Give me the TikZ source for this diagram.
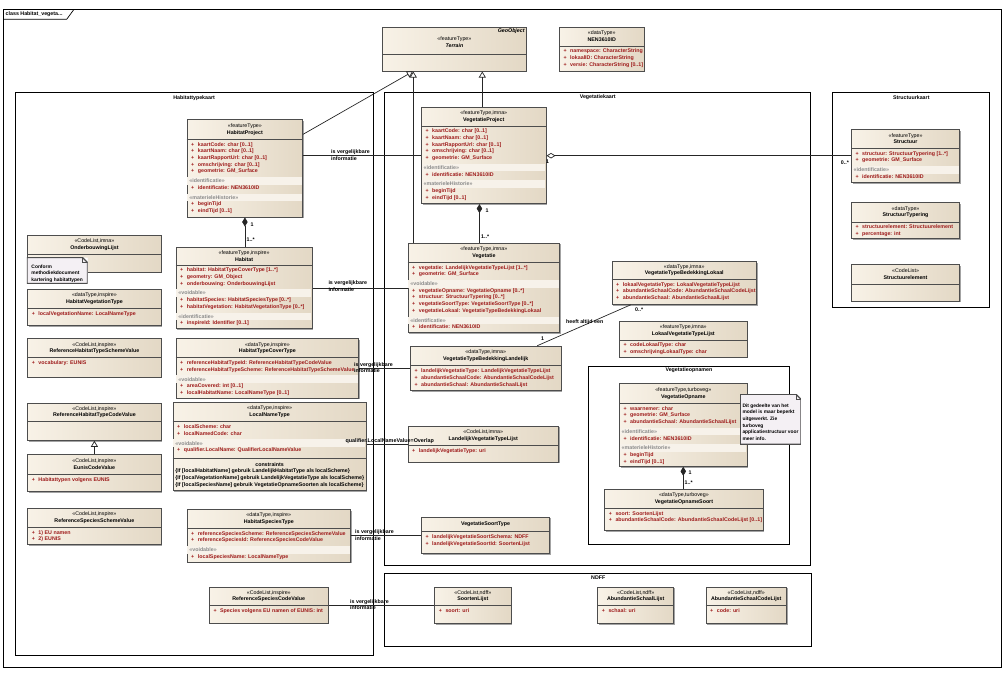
\documentclass[tikz,border=0pt]{standalone}
\usepackage{fontspec}
\setmainfont{Liberation Sans}
\usepackage{xcolor}
\usetikzlibrary{arrows.meta,positioning,calc,shadows}

\definecolor{boxl}{HTML}{F8F2E7}
\definecolor{boxr}{HTML}{E3D8C5}
\definecolor{boxline}{HTML}{4D4D4D}
\definecolor{attred}{HTML}{9E1B1B}
\definecolor{sectgray}{HTML}{8A8A8A}
\definecolor{bandc}{HTML}{F7F2EA}
\definecolor{notebg}{HTML}{F4F0F4}

\newcommand{\umlfont}{\fontsize{5.3}{6.7}\selectfont\bfseries\lineskip=0pt\relax}
\newcommand{\notefont}{\fontsize{4.9}{6.7}\selectfont\bfseries\lineskip=0pt\relax}
\newlength{\bandw}
% one attribute line, one compartment label
\newcommand{\attr}[1]{\strut\hspace{1.8pt}\textcolor{attred}{\makebox[6.7pt][l]{+}#1}}
\newcommand{\sect}[1]{\rule[-2.01pt]{0pt}{9.7pt}\rlap{\hspace{-2pt}\textcolor{bandc}{\rule[-2.01pt]{\bandw}{7.6pt}}}\textcolor{sectgray}{«#1»}}
\newcommand{\stereo}[1]{{\mdseries«#1»}}
% class box: name, x, y, width, height, header height, header, body
\newcommand{\umlbox}[8]{%
  \node[clsbox, minimum width=#4pt, minimum height=#5pt] (#1) at (#2,#3) {};
  \draw[boxsep] ([yshift=-#6pt]#1.north west) -- ([yshift=-#6pt]#1.north east);
  \node[hdrtext] (#1-hdr) at ([yshift=-#6pt/2]#1.north) {#7};
  \setlength{\bandw}{\dimexpr#4pt-1pt\relax}%
  \node[bodytext] (#1-body) at ([xshift=2.5pt,yshift=-#6pt-2pt]#1.north west) {#8};
}

\begin{document}
\begin{tikzpicture}[x=1pt, y=-1pt,
  clsbox/.style={draw=boxline, line width=0.8pt, left color=boxl, right color=boxr,
                 anchor=north west, inner sep=0pt,
                 drop shadow={shadow xshift=1.3pt, shadow yshift=-1.3pt, fill=black!60, opacity=0.6}},
  boxsep/.style={draw=boxline, line width=0.7pt},
  hdrtext/.style={align=center, inner sep=0pt, font=\umlfont},
  bodytext/.style={anchor=north west, align=left, inner sep=0pt, font=\umlfont},
  pkg/.style={draw=black, line width=0.9pt, anchor=north west, inner sep=0pt},
  pkgtitle/.style={anchor=north, inner sep=0pt, font=\umlfont},
  note/.style={anchor=north west, align=left, inner xsep=1.4pt, inner ysep=1pt,
               font=\notefont, fill=notebg,
               path picture={
                 \fill[white] ([xshift=-5pt]path picture bounding box.north east)
                   -- (path picture bounding box.north east)
                   -- ([yshift=-5pt]path picture bounding box.north east) -- cycle;
                 \draw[boxline, line width=1.3pt] (path picture bounding box.south west)
                   -- (path picture bounding box.north west)
                   -- ([xshift=-5pt]path picture bounding box.north east)
                   -- ([yshift=-5pt]path picture bounding box.north east)
                   -- (path picture bounding box.south east) -- cycle;
                 \draw[boxline, line width=0.6pt] ([xshift=-5pt]path picture bounding box.north east)
                   |- ([yshift=-5pt]path picture bounding box.north east);}},
  conn/.style={draw=black!85, line width=0.7pt},
  gen/.style={conn, -{Triangle[open, length=6pt, width=7pt]}},
  comp/.style={conn, {Diamond[length=9pt, width=5.5pt]}-},
  agg/.style={conn, {Diamond[open, length=9pt, width=5.5pt]}-},
  lbl/.style={anchor=west, align=left, inner sep=0pt, font=\umlfont},
  mult/.style={anchor=west, inner sep=0pt, font=\umlfont}
]
\useasboundingbox (0,0) rectangle (1003,673);

% frame and packages
\node[pkg, minimum width=997.4pt, minimum height=657.4pt] (frame) at (3.3,9.3) {};
\draw[conn, draw=black] ([yshift=-10pt]frame.north west) -- ++(63.4,0) -- ([xshift=70.7pt]frame.north west);
\node[mult] (tab) at (5.5,14.5) {class Habitat\_vegeta...};

\node[pkg, minimum width=358pt, minimum height=562.7pt] (habkaart) at (14.7,92.3) {};
\node[pkgtitle] (habkaart-t) at ([yshift=-3.5pt]habkaart.north) {Habitattypekaart};
\node[pkg, minimum width=426pt, minimum height=472.7pt] (vegkaart) at (384.3,92.3) {};
\node[pkgtitle] (vegkaart-t) at ([yshift=-2pt]vegkaart.north) {Vegetatiekaart};
\node[pkg, minimum width=157pt, minimum height=215pt] (strkaart) at (832.3,92.3) {};
\node[pkgtitle] (strkaart-t) at ([yshift=-3.5pt]strkaart.north) {Structuurkaart};
\node[pkg, minimum width=200.4pt, minimum height=178.3pt] (vegopn) at (588.3,365.7) {};
\node[pkgtitle] (vegopn-t) at ([yshift=-2pt]vegopn.north) {Vegetatieopnamen};
\node[pkg, minimum width=427pt, minimum height=72.4pt] (ndff) at (384.3,573.3) {};
\node[pkgtitle] (ndff-t) at ([yshift=-2pt]ndff.north) {NDFF};

% top
\umlbox{terrain}{382.3}{26.7}{143.4}{44}{27.3}{\mbox{}\\\stereo{featureType}\\\textit{Terrain}}{}
\node[anchor=north east, inner sep=0pt, font=\umlfont] (geo) at ([xshift=-1.5pt,yshift=-2pt]terrain.north east) {\textit{GeoObject}};
\umlbox{nen}{559}{26.7}{84.7}{44}{19.3}{\stereo{dataType}\\NEN3610ID}
  {\attr{namespace: CharacterString}\\\attr{lokaalID: CharacterString}\\\attr{versie: CharacterString [0..1]}}

% Habitattypekaart
\umlbox{hp}{186.7}{119.3}{115.6}{97.4}{20}{\stereo{featureType}\\HabitatProject}
  {\attr{kaartCode: char [0..1]}\\\attr{kaartNaam: char [0..1]}\\\attr{kaartRapportUrl: char [0..1]}\\
   \attr{omschrijving: char [0..1]}\\\attr{geometrie: GM\_Surface}\\\sect{identificatie}\\
   \attr{identificatie: NEN3610ID}\\\sect{materieleHistorie}\\\attr{beginTijd}\\\attr{eindTijd [0..1]}}
\umlbox{ol}{27.3}{235}{133.4}{36.7}{19.3}{\stereo{CodeList,imna}\\OnderbouwingLijst}{}
\umlbox{hvt}{27.3}{289}{133.4}{36}{19.3}{\stereo{dataType,inspire}\\HabitatVegetationType}
  {\attr{localVegetationName: LocalNameType}}
\umlbox{rhtsv}{27.3}{338.3}{133.4}{38.4}{19.4}{\stereo{CodeList,inspire}\\ReferenceHabitatTypeSchemeValue}
  {\attr{vocabulary: EUNIS}}
\umlbox{rhtcv}{27.3}{402.7}{133.4}{37.3}{19}{\stereo{CodeList,inspire}\\ReferenceHabitatTypeCodeValue}{}
\umlbox{ecv}{27.3}{454.3}{133.4}{36.7}{20}{\stereo{CodeList,inspire}\\EunisCodeValue}
  {\attr{Habitattypen volgens EUNIS}}
\umlbox{rssv}{27.3}{507.7}{133.4}{36.6}{19.6}{\stereo{CodeList,inspire}\\ReferenceSpeciesSchemeValue}
  {\attr{1) EU namen}\\\attr{2) EUNIS}}
\umlbox{hab}{175.7}{246.7}{136}{81.6}{18.3}{\stereo{featureType,inspire}\\Habitat}
  {\attr{habitat: HabitatTypeCoverType [1..*]}\\\attr{geometry: GM\_Object}\\\attr{onderbouwing: OnderbouwingLijst}\\
   \sect{voidable}\\\attr{habitatSpecies: HabitatSpeciesType [0..*]}\\\attr{habitatVegetation: HabitatVegetationType [0..*]}\\
   \sect{identificatie}\\\attr{inspireId: Identifier [0..1]}}
\umlbox{htct}{175.7}{338.3}{182.6}{59.4}{19.4}{\stereo{dataType,inspire}\\HabitatTypeCoverType}
  {\attr{referenceHabitatTypeId: ReferenceHabitatTypeCodeValue}\\\attr{referenceHabitatTypeScheme: ReferenceHabitatTypeSchemeValue}\\
   \sect{voidable}\\\attr{areaCovered: int [0..1]}\\\attr{localHabitatName: LocalNameType [0..1]}}
\umlbox{lnt}{172.7}{401.7}{193}{88.3}{20}{\stereo{dataType,inspire}\\LocalNameType}
  {\attr{localScheme: char}\\\attr{localNamedCode: char}\\\sect{voidable}\\\attr{qualifier.LocalName: QualifierLocalNameValue}}
\draw[boxsep] ([yshift=-56.6pt]lnt.north west) -- ([yshift=-56.6pt]lnt.north east);
\node[hdrtext] (lnt-ct) at ([yshift=-62.5pt]lnt.north) {constraints};
\node[bodytext] (lnt-cons) at ([xshift=2.5pt,yshift=-66.3pt]lnt.north west)
  {\strut\{If [localHabitatName] gebruik LandelijkHabitatType als localScheme\}\\
   \strut\{If [localVegetationName] gebruik LandelijkVegetatieType als localScheme\}\\
   \strut\{If [localSpeciesName] gebruik VegetatieOpnameSoorten als localScheme\}};
\umlbox{hst}{186.7}{509}{163.3}{52.7}{19.3}{\stereo{dataType,inspire}\\HabitatSpeciesType}
  {\attr{referenceSpeciesScheme: ReferenceSpeciesSchemeValue}\\\attr{referenceSpeciesId: ReferenceSpeciesCodeValue}\\
   \sect{voidable}\\\attr{localSpeciesName: LocalNameType}}
\umlbox{rscv}{209}{586.7}{118.7}{36}{19}{\stereo{CodeList,inspire}\\ReferenceSpeciesCodeValue}
  {\attr{Species volgens EU namen of EUNIS: int}}
\node[note, minimum width=60.6pt] (n-conform) at (26.7,257.3)
  {\rule{0pt}{9.5pt}Conform\\methodiekdocument\\kartering habitattypen};

% Vegetatiekaart
\umlbox{vp}{421}{107.3}{124.7}{96}{18.7}{\stereo{featureType,imna}\\VegetatieProject}
  {\attr{kaartCode: char [0..1]}\\\attr{kaartNaam: char [0..1]}\\\attr{kaartRapportUrl: char [0..1]}\\
   \attr{omschrijving: char [0..1]}\\\attr{geometrie: GM\_Surface}\\\sect{identificatie}\\
   \attr{identificatie: NEN3610ID}\\\sect{materieleHistorie}\\\attr{beginTijd}\\\attr{eindTijd [0..1]}}
\umlbox{veg}{407.7}{242.7}{151.6}{89.6}{19.6}{\stereo{featureType,imna}\\Vegetatie}
  {\attr{vegetatie: LandelijkVegetatieTypeLijst [1..*]}\\\attr{geometrie: GM\_Surface}\\\sect{voidable}\\
   \attr{vegetatieOpname: VegetatieOpname [0..*]}\\\attr{structuur: StructuurTypering [0..*]}\\
   \attr{vegetatieSoortType: VegetatieSoortType [0..*]}\\\attr{vegetatieLokaal: VegetatieTypeBedekkingLokaal}\\
   \sect{identificatie}\\\attr{identificatie: NEN3610ID}}
\umlbox{vtbl}{410}{345.7}{150.7}{44.3}{20}{\stereo{dataType,imna}\\VegetatieTypeBedekkingLandelijk}
  {\attr{landelijkVegetatieType: LandelijkVegetatieTypeLijst}\\\attr{abundantieSchaalCode: AbundantieSchaalCodeLijst}\\
   \attr{abundantieSchaal: AbundantieSchaalLijst}}
\umlbox{lvtl}{407.7}{425.7}{150.3}{36}{19.6}{\stereo{CodeList,imna}\\LandelijkVegetatieTypeLijst}
  {\attr{landelijkVegetatieType: uri}}
\umlbox{vst}{421}{516.7}{128.3}{36.6}{15}{VegetatieSoortType}
  {\attr{landelijkVegetatieSoortSchema: NDFF}\\\attr{landelijkVegetatieSoortId: SoortenLijst}}
\umlbox{vtblok}{611.7}{261}{144.3}{43}{18.3}{\stereo{dataType,imna}\\VegetatieTypeBedekkingLokaal}
  {\attr{lokaalVegetatieType: LokaalVegetatieTypeLijst}\\\attr{abundantieSchaalCode: AbundantieSchaalCodeLijst}\\
   \attr{abundantieSchaal: AbundantieSchaalLijst}}
\umlbox{lvtlijst}{619}{320.7}{127.7}{36}{19.3}{\stereo{featureType,imna}\\LokaalVegetatieTypeLijst}
  {\attr{codeLokaalType: char}\\\attr{omschrijvingLokaalType: char}}
\umlbox{vo}{619}{383.3}{127.7}{82.7}{20}{\stereo{featureType,turboveg}\\VegetatieOpname}
  {\attr{waarnemer: char}\\\attr{geometrie: GM\_Surface}\\\attr{abundantieSchaal: AbundantieSchaalLijst}\\
   \sect{identificatie}\\\attr{identificatie: NEN3610ID}\\\sect{materieleHistorie}\\\attr{beginTijd}\\\attr{eindTijd [0..1]}}
\umlbox{vos}{604.3}{489}{158.4}{41}{19.3}{\stereo{dataType,turboveg}\\VegetatieOpnameSoort}
  {\attr{soort: SoortenLijst}\\\attr{abundantieSchaalCode: AbundantieSchaalCodeLijst [0..1]}}
\node[note, minimum width=60.7pt, minimum height=50pt] (n-turboveg) at (740,394)
  {\rule{0pt}{9.5pt}Dit gedeelte van het\\model is maar beperkt\\uitgewerkt. Zie\\turboveg\\applicatiestructuur voor\\meer info.};

% NDFF
\umlbox{sl}{434.3}{586.7}{76.4}{36.6}{19}{\stereo{CodeList,ndff}\\SoortenLijst}{\attr{soort: uri}}
\umlbox{asl}{597.3}{586.7}{76}{36.6}{19}{\stereo{CodeList,ndff}\\AbundantieSchaalLijst}{\attr{schaal: uri}}
\umlbox{ascl}{705.7}{586.7}{80.3}{36.6}{19}{\stereo{CodeList,ndff}\\AbundantieSchaalCodeLijst}{\attr{code: uri}}

% Structuurkaart
\umlbox{str}{851}{129}{108.3}{53.3}{19.3}{\stereo{featureType}\\Structuur}
  {\attr{structuur: StructuurTypering [1..*]}\\\attr{geometrie: GM\_Surface}\\\sect{identificatie}\\\attr{identificatie: NEN3610ID}}
\umlbox{strtyp}{851}{202.3}{108.3}{36}{19.7}{\stereo{dataType}\\StructuurTypering}
  {\attr{structuurelement: Structuurelement}\\\attr{percentage: int}}
\umlbox{strel}{851}{264.3}{108.3}{36.4}{20}{\stereo{CodeList}\\Structuurelement}{}

% generalisations
\draw[gen] ([yshift=-15pt]hp.north east) -- ([xshift=-41.5pt]terrain.south);
\draw[gen] ([xshift=5.6pt]veg.north west) -- ([xshift=5.6pt]veg.north west |- terrain.south);
\draw[gen] ([xshift=61.3pt]vp.north west) -- ([xshift=61.3pt]vp.north west |- terrain.south);
\draw[gen] (ecv.north) -- (ecv.north |- rhtcv.south);

% compositions and aggregation
\draw[comp] (hp.south) -- (hp.south |- hab.north);
\node[mult] (m-hp1) at (250.5,225) {1};
\node[mult] (m-hp2) at (246.5,240) {1..*};
\draw[comp] ([xshift=-4.3pt]vp.south) -- ([xshift=-4.3pt]vp.south |- veg.north);
\node[mult] (m-vp1) at (485.5,210.5) {1};
\node[mult] (m-vp2) at (481,236.5) {1..*};
\draw[comp] (vo.south) -- (vo.south |- vos.north);
\node[mult] (m-vo1) at (688.5,473) {1};
\node[mult] (m-vo2) at (684.5,482.3) {1..*};
\draw[agg] (vp.east) -- (vp.east -| str.west);
\node[mult] (m-str1) at (546,162) {1};
\node[mult, anchor=east] (m-str2) at (849,162.3) {0..*};

% associations
\draw[conn] ([yshift=-35.7pt]hp.north east) -- ([yshift=-35.7pt]hp.north east -| vp.west);
\node[lbl] (a-proj) at (331,155) {is vergelijkbare\\informatie};
\draw[conn] (hab.east) -- (hab.east -| veg.west);
\node[lbl] (a-hab) at (328.3,286) {is vergelijkbare\\informatie};
\draw[conn] (htct.east) -- (htct.east -| vtbl.west);
\node[lbl] (a-cover) at (354,367.5) {is vergelijkbare\\informatie};
\draw[conn] (lvtl.west) -- (lvtl.west -| lnt.east);
\node[lbl, anchor=base, font=\fontsize{5.4}{6.7}\selectfont\bfseries] (a-qual) at (389.7,442.5) {qualifier.LocalNameValue=Overlap};
\draw[conn] (hst.east) -- (hst.east -| vst.west);
\node[lbl] (a-soort) at (355,535) {is vergelijkbare\\informatie};
\draw[conn] (rscv.east) -- (rscv.east -| sl.west);
\node[lbl] (a-species) at (350,604.5) {is vergelijkbare\\informatie};
\draw[conn] ([xshift=127.3pt]vtbl.north west) -- ([xshift=19pt]vtblok.south west);
\node[lbl, anchor=center] (a-lokaal) at (584.7,322) {heeft altijd een};
\node[mult] (m-lok1) at (541,339) {1};
\node[mult] (m-lok2) at (635,310) {0..*};
\end{tikzpicture}
\end{document}
